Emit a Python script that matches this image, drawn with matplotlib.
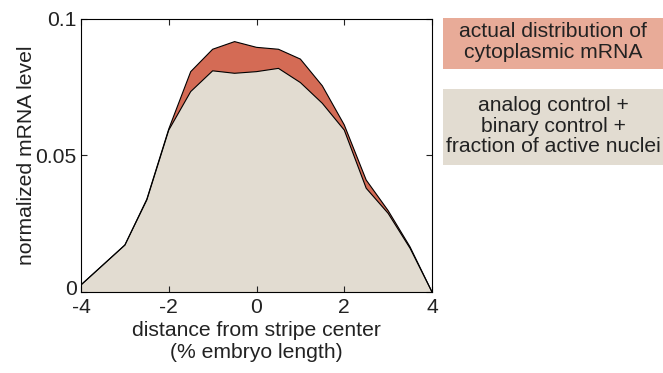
import matplotlib
matplotlib.use('Agg')
import matplotlib.pyplot as plt
import matplotlib.transforms as mtransforms
import numpy as np

plt.rcParams['font.family'] = ['Liberation Sans', 'DejaVu Sans']

# distance from stripe center (% embryo length)
x_pos = [-4, -3.5, -3, -2.5, -2, -1.5, -1, -0.5, 0, 0.5, 1, 1.5, 2, 2.5, 3, 3.5, 4]
# actual cytoplasmic mRNA
actual = [0.0026, 0.0099, 0.0172, 0.0340, 0.0597, 0.0807, 0.0889, 0.0917, 0.0896,
          0.0889, 0.0853, 0.0755, 0.0612, 0.0410, 0.0298, 0.0165, 0.0]
# analog + binary control + fraction of active nuclei
model = [0.0026, 0.0099, 0.0172, 0.0337, 0.0593, 0.0734, 0.0810, 0.0801, 0.0807,
         0.0819, 0.0767, 0.0691, 0.0593, 0.0380, 0.0288, 0.0160, 0.0]

red = '#D46B55'
beige = '#E2DCD1'
fs = 15.2

fig = plt.figure(figsize=(6.63, 3.73), dpi=100)
ax = fig.add_axes([0.1222, 0.2172, 0.5294, 0.732])

ax.fill_between(x_pos, 0, actual, facecolor=red, edgecolor='none')
ax.fill_between(x_pos, 0, model, facecolor=beige, edgecolor='none')
ax.plot(x_pos, actual, color='black', lw=0.8)
ax.plot(x_pos, model, color='black', lw=0.8)

ax.set_xlim(-4, 4)
ax.set_ylim(0, 0.1)
ax.set_xticks([-4, -2, 0, 2, 4])
ax.set_xticklabels(['-4', '-2', '0', '2', '4'])
ax.set_yticks([0, 0.05, 0.1])
ax.set_yticklabels(['0', '0.05', '0.1'])
ax.tick_params(direction='in', top=True, right=True, labelsize=fs,
               length=4, width=0.8, colors='#222222')
ax.tick_params(axis='x', pad=4)
ax.tick_params(axis='y', pad=3)
for s in ax.spines.values():
    s.set_linewidth(0.8)

# nudge the "0" y label up a little so it clears "-4"
lbl0 = ax.get_yticklabels()[0]
lbl0.set_transform(lbl0.get_transform() +
                   mtransforms.ScaledTranslation(0, 3 / 72, fig.dpi_scale_trans))

ax.set_xlabel('distance from stripe center\n(% embryo length)', fontsize=fs,
              labelpad=3, linespacing=1.2, color='#222222')
ax.set_ylabel('normalized mRNA level', fontsize=fs, labelpad=0, color='#222222')

# legend text boxes
fig.patches.append(plt.Rectangle((443 / 663, 1 - 69 / 373), 220 / 663, 51 / 373,
                                 transform=fig.transFigure, facecolor='#E8AB98',
                                 edgecolor='none'))
fig.patches.append(plt.Rectangle((443 / 663, 1 - 165 / 373), 220 / 663, 76 / 373,
                                 transform=fig.transFigure, facecolor=beige,
                                 edgecolor='none'))
fig.text(553 / 663, 1 - 42 / 373, 'actual distribution of\ncytoplasmic mRNA',
         ha='center', va='center', fontsize=fs, color='#222222', linespacing=1.12)
fig.text(553 / 663, 1 - 126 / 373,
         'analog control +\nbinary control +\nfraction of active nuclei',
         ha='center', va='center', fontsize=fs, color='#222222', linespacing=1.12)

fig.savefig('out.png', dpi=100)
